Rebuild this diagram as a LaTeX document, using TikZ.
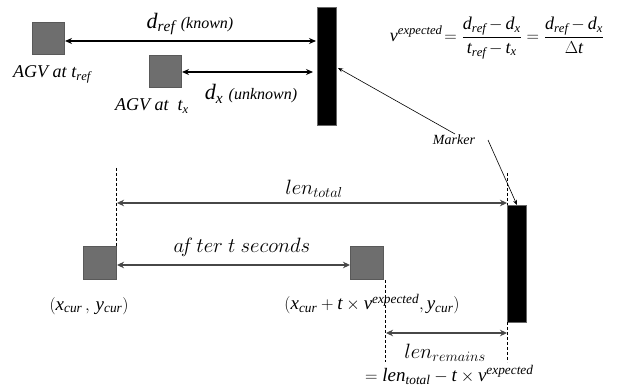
\documentclass[tikz,border=0pt]{standalone}
\usepackage{fontspec}
\setmainfont{Liberation Serif}
\usetikzlibrary{arrows.meta}
\newcommand\mi[1]{\mathit{#1}}
\newcommand\hy{\mathrm{\,-\,}}
\begin{document}
\begin{tikzpicture}[x=1pt,y=-1pt,
  agv/.style={draw=black!65,fill=black!57,line width=1pt,minimum width=32pt,minimum height=32pt,inner sep=0pt},
  marker/.style={draw=black!60,fill=black,line width=1pt,inner sep=0pt},
  toparrow/.style={line width=1.8pt,{Stealth[length=7pt,width=6pt]}-{Stealth[length=7pt,width=6pt]}},
  botarrow/.style={draw=black!72,line width=2.4pt,{Stealth[length=7pt,width=6.5pt]}-{Stealth[length=7pt,width=6.5pt]}},
  pointer/.style={line width=0.6pt,-{Stealth[length=5pt,width=4pt]}},
  guide/.style={dashed,line width=0.6pt,dash pattern=on 3pt off 2pt},
  lbl/.style={inner sep=0pt}]
\useasboundingbox (0,0) rectangle (629,387);
% top scene
\node[agv] (sq1) at (48,39) {};
\node[agv] (sq2) at (165,72) {};
\node[marker,minimum width=19pt,minimum height=118pt] (bar1) at (327,67) {};
\coordinate (a1) at (65,41);
\coordinate (b1) at (316,41);
\draw[toparrow] (a1) -- (b1);
\coordinate (a2) at (182,72);
\coordinate (b2) at (313,72);
\draw[toparrow] (a2) -- (b2);
\node[lbl] (dref) at (190,24) {\fontsize{22}{24}\selectfont$\mi{d}_{\mi{ref}}$\ \fontsize{16}{18}\selectfont\textit{(known)}};
\node[lbl] (dx) at (251,94) {\fontsize{22}{24}\selectfont$\mi{d}_{\mi{x}}$\ \fontsize{16}{18}\selectfont\textit{(unknown)}};
\node[lbl] (agv1) at (52,74) {\fontsize{18}{20}\selectfont\textit{AGV at }$\mi{t}_{\mi{ref}}$};
\node[lbl] (agv2) at (152,106) {\fontsize{18}{20}\selectfont\textit{AGV at\ \ }$\mi{t}_{\mi{x}}$};
\node[lbl] (formula) at (497,38) {\fontsize{18}{21}\selectfont$\displaystyle\mi{v}^{\mi{expected}}\!=\frac{\mi{d}_{\mi{ref}}\hy\mi{d}_{\mi{x}}}{\mi{t}_{\mi{ref}}\hy\mi{t}_{\mi{x}}}=\frac{\mi{d}_{\mi{ref}}\hy\mi{d}_{\mi{x}}}{\Delta\mi{t}}$};
% marker label and pointers
\node[lbl] (mk) at (454,140) {\fontsize{14}{16}\selectfont\textit{Marker}};
% bottom scene
\node[agv,minimum width=33pt,minimum height=33pt] (sq3) at (99.5,263.5) {};
\node[agv,minimum width=33pt,minimum height=33pt] (sq4) at (367,263.5) {};
\node[marker,minimum width=19pt,minimum height=116pt] (bar2) at (516.5,264) {};
\coordinate (p1) at (455,134);
\coordinate (p2) at (338,68);
\draw[pointer] (p1) -- (p2);
\coordinate (p3) at (488,140);
\coordinate (p4) at (517,205);
\draw[pointer] (p3) -- (p4);
% guides
\coordinate (g1a) at (116,168); \coordinate (g1b) at (116,247);
\coordinate (g2a) at (507,173); \coordinate (g2b) at (507,205);
\coordinate (g3a) at (385,280); \coordinate (g3b) at (385,362);
\coordinate (g4a) at (507,322); \coordinate (g4b) at (507,362);
\draw[guide] (g1a) -- (g1b);
\draw[guide] (g2a) -- (g2b);
\draw[guide] (g3a) -- (g3b);
\draw[guide] (g4a) -- (g4b);
% bottom arrows
\coordinate (l1) at (117,203); \coordinate (r1) at (507,203);
\draw[botarrow] (l1) -- (r1);
\coordinate (l2) at (117,265); \coordinate (r2) at (350,265);
\draw[botarrow] (l2) -- (r2);
\coordinate (l3) at (386,333); \coordinate (r3) at (507,333);
\draw[botarrow] (l3) -- (r3);
\node[lbl] (lent) at (314,189) {\fontsize{20.74}{23}\selectfont$len_{total}$};
\node[lbl] (aft) at (242,247) {\fontsize{20.74}{23}\selectfont$a\!f\,ter\ t\ seconds$};
\node[lbl] (cur) at (89,306) {\fontsize{19}{21}\selectfont$(\mi{x}_{\mi{cur}}\,,\,\mi{y}_{\mi{cur}})$};
\node[lbl] (nxt) at (372,304) {\fontsize{19}{21}\selectfont$(\mi{x}_{\mi{cur}}+\mi{t}\times\mi{v}^{\mi{expected}},\mi{y}_{\mi{cur}})$};
\node[lbl] (lenr) at (445,353) {\fontsize{20.74}{23}\selectfont$len_{remains}$};
\node[lbl,anchor=base west] (eq) at (365,381) {\fontsize{19}{21}\selectfont$=\mi{len}_{\mi{total}} - \mi{t}\times\mi{v}^{\mi{expected}}$};
\end{tikzpicture}
\end{document}
